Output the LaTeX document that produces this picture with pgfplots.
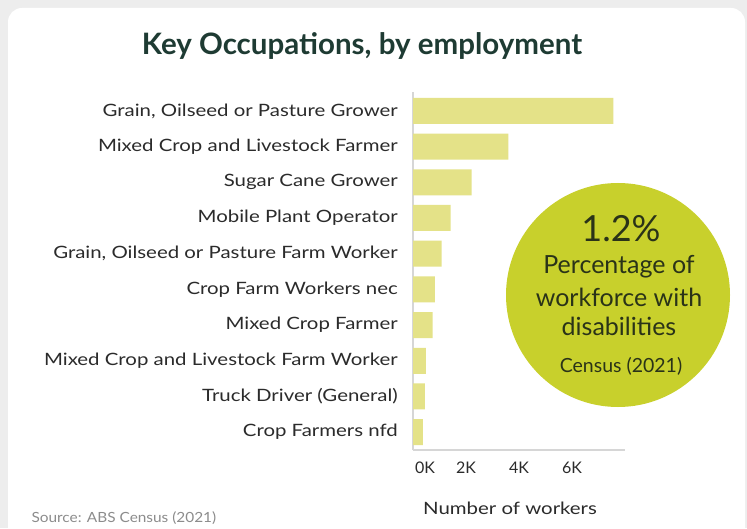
\documentclass[border=0pt]{standalone}
\usepackage{fontspec}
\setmainfont{Lato}
\newfontfamily\widefont{Lato}[FakeStretch=1.2]
\newfontfamily\srcfont{Lato}[FakeStretch=1.1]
\usepackage{pgfplots}
\pgfplotsset{compat=1.18}

\definecolor{barcol}{HTML}{E4E288}
\definecolor{circcol}{HTML}{C8D02C}
\definecolor{titlecol}{HTML}{1E3B33}
\definecolor{labcol}{HTML}{2B2B2B}
\definecolor{circtext}{HTML}{2A3318}
\definecolor{axiscol}{HTML}{D6D6D6}

\begin{document}
\begin{tikzpicture}[x=1pt,y=1pt]
  % card background
  \clip (0,0) rectangle (747,528);
  \fill[black!7] (0,0) rectangle (747,528);
  \fill[white, rounded corners=14pt] (8,-30) rectangle (745,520);

  \node[anchor=base, text=titlecol, font=\fontsize{29.5}{33}\selectfont\bfseries] at (362,473)
    {Key Occupations, by employment};

  \begin{axis}[
      at={(413pt,78pt)}, anchor=south west,
      scale only axis,
      width=212pt, height=358pt,
      xbar,
      bar width=26pt,
      xmin=0, xmax=8000,
      ymin=-0.5, ymax=9.53,
      ytick={0,...,9},
      yticklabels={
        Crop Farmers nfd,
        Truck Driver (General),
        Mixed Crop and Livestock Farm Worker,
        Mixed Crop Farmer,
        Crop Farm Workers nec,
        {Grain, Oilseed or Pasture Farm Worker},
        Mobile Plant Operator,
        Sugar Cane Grower,
        Mixed Crop and Livestock Farmer,
        {Grain, Oilseed or Pasture Grower}},
      xtick={0,2000,4000,6000},
      xticklabels={\hspace*{24pt}0K,2K,4K,6K},
      scaled x ticks=false,
      major tick length=0pt,
      axis x line*=bottom,
      axis y line*=left,
      axis line style={draw=axiscol, line width=2pt, -},
      yticklabel style={anchor=east, inner sep=0pt, xshift=-15pt,
        text=labcol, font=\widefont\fontsize{17}{20}\selectfont},
      xticklabel style={anchor=north, inner sep=0pt, yshift=-12pt,
        text=labcol, font=\fontsize{16}{19}\selectfont},
      /pgf/number format/assume math mode=true,
    ]
    \addplot[fill=barcol, draw=none] coordinates {
      (370,0) (450,1) (490,2) (740,3) (830,4)
      (1080,5) (1420,6) (2210,7) (3600,8) (7560,9)
    };
  \end{axis}

  \node[anchor=base, text=labcol, font=\widefont\fontsize{17}{20}\selectfont] at (510,14)
    {Number of workers};
  \node[anchor=base west, text=black!45, font=\srcfont\fontsize{14}{16}\selectfont] at (28,6)
    {Source: ABS Census (2021)};

  % highlight circle
  \fill[circcol] (618,233) circle (112);
  \node[anchor=base, text=circtext, font=\fontsize{36}{40}\selectfont] at (621,286) {1.2\%};
  \node[anchor=base, text=circtext, font=\fontsize{25}{28}\selectfont] at (619,254) {Percentage of};
  \node[anchor=base, text=circtext, font=\fontsize{25}{28}\selectfont] at (619,221) {workforce with};
  \node[anchor=base, text=circtext, font=\fontsize{25}{28}\selectfont] at (619,193) {disabilities};
  \node[anchor=base, text=circtext, font=\fontsize{19.5}{22}\selectfont] at (621,156) {Census (2021)};
\end{tikzpicture}
\end{document}
